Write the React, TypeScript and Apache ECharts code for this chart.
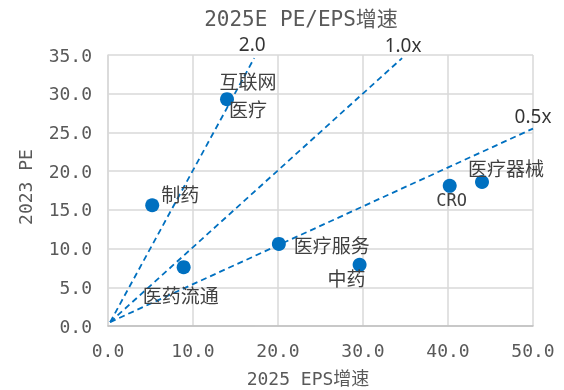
import React, { useEffect, useRef } from "react";
import * as echarts from "echarts";

const sectors = ["互联网\n医疗", "制药", "医疗服务", "CRO", "医疗器械", "中药", "医药流通"];
const epsGrowth2025 = [14.0, 5.2, 20.1, 40.2, 44.0, 29.6, 8.9];
const pe2023 = [29.3, 15.6, 10.6, 18.1, 18.6, 7.9, 7.6];

const refLineNames = ["2.0", "1.0x", "0.5x"];
const refLineStart = [[0.25, 0.5], [0.25, 0.5], [0.25, 0.5]];
const refLineEnd = [[17.2, 34.6], [34.6, 34.6], [50, 25.5]];

const xTicks = { min: 0, max: 50, interval: 10 };
const yTicks = { min: 0, max: 35, interval: 5 };

const labelOffsets: Record<string, number[]> = {
  "互联网\n医疗": [21, -5],
  "制药": [28, -12],
  "医疗服务": [53, 1],
  "CRO": [2, 14],
  "医疗器械": [24, -14],
  "中药": [-13, 13],
  "医药流通": [-3, 27],
};
const refLabelOffsets = [[-2, -14], [1, -13], [0, -13]];

const MONO = "'DejaVu Sans Mono', 'Noto Sans CJK SC', monospace";
const CJK = "'Noto Sans CJK SC', 'DejaVu Sans Mono', sans-serif";
const BLUE = "#0070C0";

export default function App() {
  const ref = useRef<HTMLDivElement>(null);
  useEffect(() => {
    if (!ref.current) return;
    const chart = echarts.init(ref.current, null, { renderer: "svg" });
    const lineSeries = refLineNames.map((n, i) => ({
      type: "line",
      name: n,
      data: [refLineStart[i], refLineEnd[i]],
      symbol: "none",
      silent: true,
      lineStyle: { color: BLUE, width: 1.8, type: [6, 4] },
      z: 2,
    }));
    const option: any = {
      animation: false,
      title: {
        text: "2025E PE/EPS增速",
        left: 296,
        top: 3,
        textAlign: "center",
        textStyle: { fontFamily: MONO, fontSize: 21, fontWeight: "normal", color: "#595959" },
      },
      grid: { left: 108, right: 31, top: 55, bottom: 64, containLabel: false },
      xAxis: {
        type: "value",
        min: xTicks.min,
        max: xTicks.max,
        interval: xTicks.interval,
        axisLine: { show: true, lineStyle: { color: "#bfbfbf", width: 1.5 } },
        axisTick: { show: false },
        splitLine: { show: true, lineStyle: { color: "#d9d9d9", width: 1.5 } },
        axisLabel: {
          formatter: (v: number) => v.toFixed(1),
          fontFamily: MONO,
          fontSize: 18,
          color: "#595959",
          margin: 15,
        },
      },
      yAxis: {
        type: "value",
        min: yTicks.min,
        max: yTicks.max,
        interval: yTicks.interval,
        axisLine: { show: true, lineStyle: { color: "#d9d9d9", width: 1.5 } },
        axisTick: { show: false },
        splitLine: { show: true, lineStyle: { color: "#d9d9d9", width: 1.5 } },
        axisLabel: {
          formatter: (v: number) => v.toFixed(1),
          fontFamily: MONO,
          fontSize: 18,
          color: "#595959",
          margin: 16,
        },
      },
      graphic: [
        {
          type: "text",
          x: 308,
          y: 378,
          style: {
            text: "2025 EPS增速",
            fontFamily: MONO,
            fontSize: 18,
            fill: "#595959",
            textAlign: "center",
            textVerticalAlign: "middle",
          },
        },
        {
          type: "text",
          x: 25,
          y: 187,
          rotation: Math.PI / 2,
          style: {
            text: "2023 PE",
            fontFamily: MONO,
            fontSize: 18,
            fill: "#595959",
            textAlign: "center",
            textVerticalAlign: "middle",
          },
        },
      ],
      series: [
        ...lineSeries,
        {
          type: "scatter",
          symbol: "circle",
          symbolSize: 10,
          silent: true,
          itemStyle: { color: "rgba(0,0,0,0)" },
          label: {
            show: true,
            position: "inside",
            fontFamily: "'Noto Sans', 'Open Sans', sans-serif",
            fontSize: 19,
            color: "#000000",
            formatter: (p: any) => p.name,
          },
          data: refLineNames.map((n, i) => ({
            name: n,
            value: refLineEnd[i],
            label: { offset: refLabelOffsets[i] },
          })),
          z: 3,
        },
        {
          type: "scatter",
          symbol: "circle",
          symbolSize: 14,
          itemStyle: { color: BLUE, opacity: 1 },
          data: sectors.map((s, i) => ({
            name: s,
            value: [epsGrowth2025[i], pe2023[i]],
            label: {
              show: true,
              position: "inside",
              offset: labelOffsets[s],
              formatter: s,
              fontFamily: s === "CRO" ? MONO : CJK,
              fontSize: s === "CRO" ? 17 : 19,
              lineHeight: 28,
              color: "#404040",
              align: "center",
            },
          })),
          z: 4,
        },
      ],
    };
    chart.setOption(option);
    return () => chart.dispose();
  }, []);
  return (
    <div
      ref={ref}
      style={{ position: "fixed", left: 0, top: 0, width: 564, height: 390 }}
    />
  );
}
